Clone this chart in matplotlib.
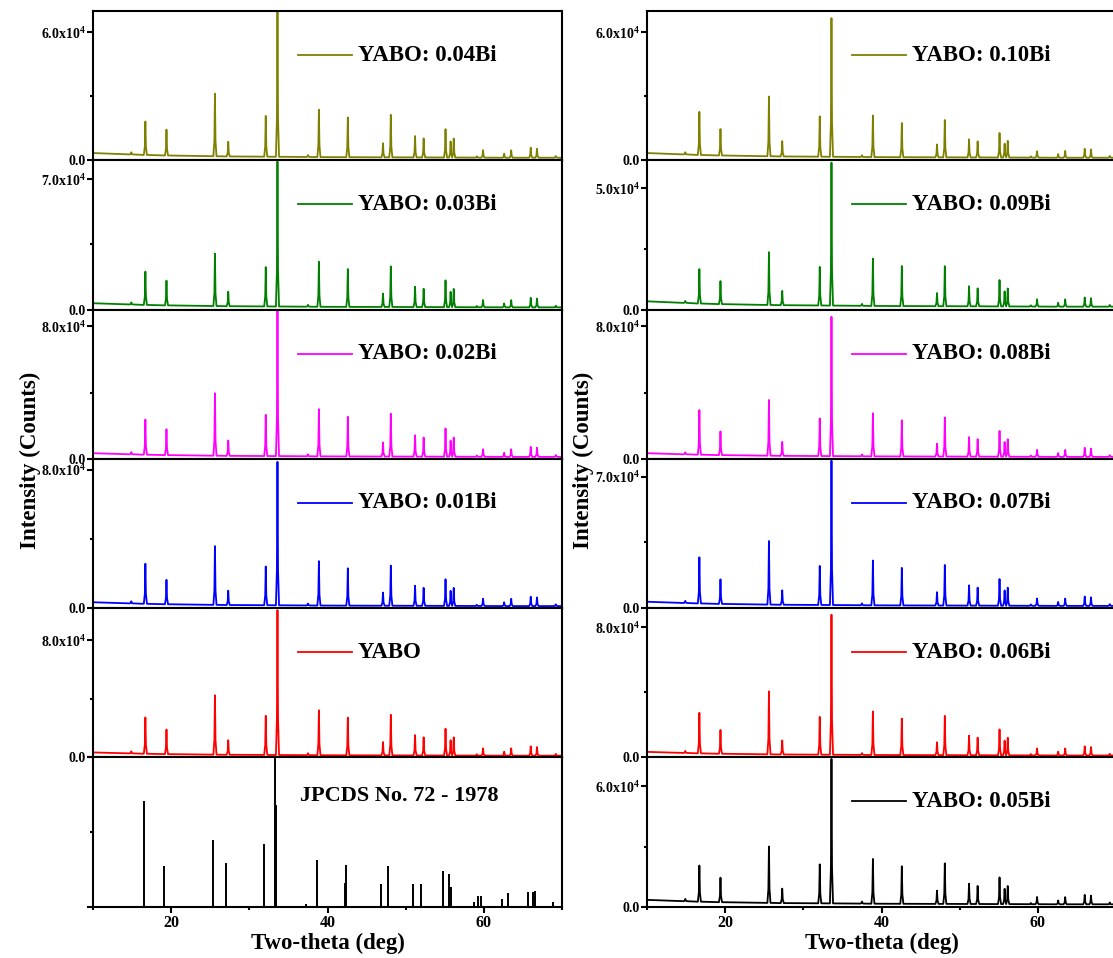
import matplotlib
matplotlib.use("Agg")
import matplotlib.pyplot as plt

plt.rcParams['font.family'] = ['Liberation Serif', 'DejaVu Serif']
plt.rcParams['font.weight'] = 'bold'
plt.rcParams['mathtext.fontset'] = 'custom'
plt.rcParams['mathtext.rm'] = 'Liberation Serif:bold'
plt.rcParams['mathtext.bf'] = 'Liberation Serif:bold'
plt.rcParams['mathtext.it'] = 'Liberation Serif:bold'

# peak positions (2theta, deg) of the measured patterns and background under them (x1000 counts)
peak_pos = [14.9, 16.7, 19.4, 25.6, 27.3, 32.1, 33.6, 37.5, 38.9, 42.6, 47.1, 48.1,
            51.2, 52.3, 55.1, 55.75, 56.15, 59.1, 59.9, 62.6, 63.5, 66.0, 66.8, 69.2]
peak_bg = [2.75, 2.5, 2.25, 1.9, 1.8, 1.7, 1.65, 1.55, 1.5, 1.45, 1.4, 1.4,
           1.35, 1.35, 1.3, 1.3, 1.3, 1.25, 1.25, 1.2, 1.2, 1.2, 1.2, 1.2]
bg_start = 3.4   # at 10 deg
bg_end = 1.2     # at 70 deg

# peak heights above background, x1000 counts
h_004 = [1.0, 15.7, 12.1, 29.3, 6.9, 19.1, 72, 0.9, 22.2, 18.6, 6.6, 19.9, 10.0, 8.9, 13.3, 7.5, 8.9, 0.6, 3.5, 1.9, 3.5, 4.7, 4.2, 0.8]
h_003 = [1.1, 17.9, 13.3, 28.1, 7.8, 21.1, 78, 1.0, 24.2, 20.3, 7.2, 21.8, 10.9, 9.8, 14.4, 8.2, 9.8, 0.7, 3.9, 2.1, 3.9, 5.1, 4.7, 0.9]
h_002 = [1.3, 21.2, 15.6, 37.7, 9.2, 24.8, 92, 1.2, 28.5, 23.9, 8.5, 25.8, 12.9, 11.5, 17.0, 9.7, 11.5, 0.8, 4.6, 2.5, 4.6, 6.0, 5.5, 1.1]
h_001 = [1.2, 23.2, 14.1, 34.0, 8.3, 22.4, 83, 1.1, 25.7, 21.6, 7.6, 23.2, 11.6, 10.4, 15.4, 8.7, 10.4, 0.7, 4.2, 2.2, 4.2, 5.4, 5.0, 1.0]
h_000 = [1.4, 24.8, 16.8, 40.6, 9.9, 26.7, 99, 1.3, 30.7, 25.7, 9.1, 27.7, 13.9, 12.4, 18.3, 10.4, 12.4, 0.9, 5.0, 2.7, 5.0, 6.4, 5.9, 1.2]
h_010 = [1.0, 20.2, 12.4, 28.0, 7.2, 18.9, 65, 0.8, 19.5, 16.0, 6.0, 17.5, 8.5, 7.5, 11.5, 6.5, 7.8, 0.6, 3.0, 1.7, 3.2, 4.2, 3.9, 0.8]
h_009 = [0.8, 14.2, 9.5, 21.8, 5.9, 15.9, 59, 0.8, 19.5, 16.5, 5.4, 16.5, 8.3, 7.4, 10.9, 6.2, 7.4, 0.5, 3.0, 1.6, 3.0, 3.8, 3.5, 0.7]
h_008 = [1.2, 26.9, 14.3, 33.6, 8.4, 22.7, 84, 1.1, 26.0, 21.8, 7.7, 23.5, 11.8, 10.5, 15.5, 8.8, 10.5, 0.8, 4.2, 2.3, 4.2, 5.5, 5.0, 1.0]
h_007 = [1.1, 24.6, 13.1, 33.9, 7.7, 20.8, 77, 1.0, 23.9, 20.0, 7.1, 21.6, 10.8, 9.6, 14.2, 8.1, 9.6, 0.7, 3.9, 2.1, 3.9, 5.0, 4.6, 0.9]
h_006 = [1.2, 24.9, 14.6, 38.7, 8.6, 23.2, 86, 1.1, 26.7, 22.4, 7.9, 24.1, 12.0, 10.8, 15.9, 9.0, 10.8, 0.8, 4.3, 2.3, 4.3, 5.6, 5.2, 1.0]
h_005 = [1.1, 18.0, 12.2, 28.1, 7.2, 19.4, 72, 1.0, 22.3, 18.7, 6.6, 20.2, 10.1, 9.0, 13.3, 7.6, 9.0, 0.6, 3.6, 1.9, 3.6, 4.7, 4.3, 0.9]

# JPCDS No. 72-1978 reference lines
ref_pos = [16.5, 19.1, 25.4, 27.0, 31.9, 33.3, 33.38, 37.2, 38.65, 38.72, 42.2, 42.4, 46.8, 47.8,
           50.9, 51.0, 51.9, 52.0, 54.8, 55.6, 55.8, 58.7, 59.3, 59.6, 62.3, 63.1, 65.6, 66.3, 66.6, 68.8]
ref_int = [71, 27, 45, 29, 42, 100, 68, 1.5, 24, 31, 16, 28, 15, 27,
           11, 15, 1.5, 15, 24, 22, 13, 3, 7, 7, 5, 9, 10, 10, 10.5, 3]

left_names = ['YABO: 0.04Bi', 'YABO: 0.03Bi', 'YABO: 0.02Bi', 'YABO: 0.01Bi', 'YABO']
left_data = [h_004, h_003, h_002, h_001, h_000]
left_colors = ['#808000', '#008000', '#ff00ff', '#0000ff', '#ff0000']
left_ymax = [70e3, 80.2e3, 90e3, 86.4e3, 102e3]
left_ytick = [6e4, 7e4, 8e4, 8e4, 8e4]

right_names = ['YABO: 0.10Bi', 'YABO: 0.09Bi', 'YABO: 0.08Bi', 'YABO: 0.07Bi', 'YABO: 0.06Bi', 'YABO: 0.05Bi']
right_data = [h_010, h_009, h_008, h_007, h_006, h_005]
right_colors = ['#808000', '#008000', '#ff00ff', '#0000ff', '#ff0000', '#000000']
right_ymax = [70e3, 61.6e3, 90e3, 79.6e3, 91.7e3, 74.4e3]
right_ytick = [6e4, 5e4, 8e4, 7e4, 8e4, 6e4]

# narrow peak shape used to draw each reflection
shape_dx = [-0.2, -0.07, 0.0, 0.07, 0.2]
shape_frac = [0.0, 0.25, 1.0, 0.25, 0.0]


def trace(heights):
    xs, ys = [10.0], [bg_start * 1e3]
    for p, b, h in zip(peak_pos, peak_bg, heights):
        for dx, f in zip(shape_dx, shape_frac):
            xs.append(p + dx)
            ys.append((b + f * h) * 1e3)
    xs.append(70.0)
    ys.append(bg_end * 1e3)
    return xs, ys


W, H = 1113, 958
fig = plt.figure(figsize=(W / 100, H / 100), dpi=100)

top_px, bot_px = 11, 906.7
ph = (bot_px - top_px) / 6


def make_ax(col_left_px, i):
    y0 = 1 - (top_px + (i + 1) * ph) / H
    ax = fig.add_axes([col_left_px / W, y0, 469 / W, ph / H])
    for s in ax.spines.values():
        s.set_linewidth(1.5)
    ax.set_xlim(10, 70)
    ax.set_xticks([20, 40, 60])
    ax.set_xticks([10, 30, 50, 70], minor=True)
    ax.tick_params(axis='both', which='major', direction='out', length=4, width=1.5,
                   labelsize=11.5, pad=2)
    ax.tick_params(axis='both', which='minor', direction='out', length=2.5, width=1.5)
    ax.tick_params(axis='y', labelsize=10, pad=1)
    if i < 5:
        ax.tick_params(axis='x', labelbottom=False)
    return ax


def sample_panel(ax, heights, color, name, ymax, ytick):
    xs, ys = trace(heights)
    ax.plot(xs, ys, color=color, lw=1.3)
    ax.set_ylim(0, ymax)
    ax.set_yticks([0, ytick])
    ax.set_yticklabels(['0.0', '%.1fx10$^{4}$' % (ytick / 1e4)])
    ax.set_yticks([ytick / 2], minor=True)
    ax.plot([0.437, 0.552], [0.705, 0.705], color=color, lw=1.3, transform=ax.transAxes)
    ax.text(0.565, 0.705, name, transform=ax.transAxes, fontsize=16.5,
            fontweight='bold', va='center', ha='left')


for i in range(5):
    ax = make_ax(93, i)
    sample_panel(ax, left_data[i], left_colors[i], left_names[i], left_ymax[i], left_ytick[i])

ax = make_ax(93, 5)
ax.vlines(ref_pos, 0, ref_int, color='black', lw=1.4)
ax.set_ylim(0, 100)
ax.set_yticks([0, 100])
ax.set_yticks([50], minor=True)
ax.tick_params(axis='y', labelleft=False)
ax.text(0.441, 0.74, 'JPCDS No. 72 - 1978', transform=ax.transAxes, fontsize=16,
        fontweight='bold', va='center', ha='left')
ax.set_xlabel('Two-theta (deg)', fontsize=16.5, fontweight='bold', labelpad=1)

for i in range(6):
    ax = make_ax(647, i)
    sample_panel(ax, right_data[i], right_colors[i], right_names[i], right_ymax[i], right_ytick[i])
ax.set_xlabel('Two-theta (deg)', fontsize=16.5, fontweight='bold', labelpad=1)

fig.text(30 / W, 1 - 460 / H, 'Intensity (Counts)', rotation=90, fontsize=16.5,
         fontweight='bold', ha='center', va='center')
fig.text(583 / W, 1 - 460 / H, 'Intensity (Counts)', rotation=90, fontsize=16.5,
         fontweight='bold', ha='center', va='center')

fig.savefig('out.png', dpi=100)
